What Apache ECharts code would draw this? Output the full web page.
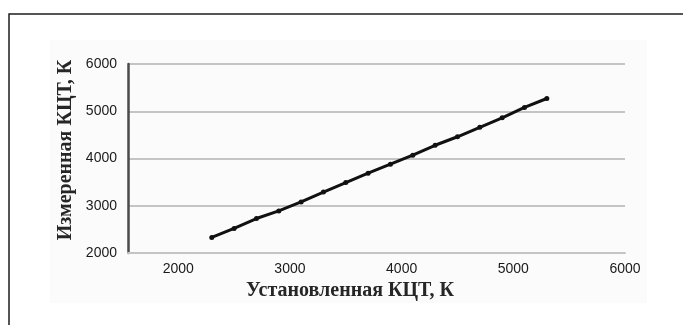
<!DOCTYPE html>
<html>
<head>
<meta charset="utf-8">
<script src="https://cdn.jsdelivr.net/npm/echarts@6/dist/echarts.min.js"></script>
<style>
  html, body { margin: 0; padding: 0; background: #fff; }
  #chart { width: 683px; height: 325px; }
</style>
</head>
<body>
<div id="chart"></div>
<script>
// Set colour temperature (K) against measured colour temperature (K)
const setCct = [2300, 2500, 2700, 2900, 3100, 3300, 3500, 3700, 3900, 4100, 4300, 4500, 4700, 4900, 5100, 5300];
const measuredCct = [2330, 2520, 2730, 2890, 3080, 3290, 3490, 3690, 3880, 4070, 4280, 4460, 4660, 4860, 5080, 5270];
const xTickLabels = [2000, 3000, 4000, 5000, 6000];
const yTickLabels = [2000, 3000, 4000, 5000, 6000];
const xTitle = 'Установленная КЦТ, К';
const yTitle = 'Измеренная КЦТ, К';

const points = setCct.map((x, i) => [x, measuredCct[i]]);

const chart = echarts.init(document.getElementById('chart'), null, { renderer: 'canvas' });

const tickFont = { fontFamily: 'Liberation Sans', fontSize: 14, color: '#1a1a1a' };
const titleFont = { fontFamily: 'Liberation Serif', fontSize: 20, fontWeight: 'bold', fill: '#262626' };
const plainNumber = v => String(v);

chart.setOption({
  backgroundColor: '#ffffff',
  animation: false,
  grid: { left: 128, right: 58, top: 64, bottom: 72, containLabel: false },
  xAxis: {
    type: 'value',
    min: 1550,
    max: 6000,
    axisLine: { show: true, lineStyle: { color: '#c4c4c4', width: 2 } },
    axisTick: { show: false },
    splitLine: { show: false },
    axisLabel: { ...tickFont, margin: 9, customValues: xTickLabels, formatter: plainNumber }
  },
  yAxis: {
    type: 'value',
    min: 2000,
    max: 6000,
    interval: 1000,
    axisLine: { show: true, lineStyle: { color: '#4a4a4a', width: 2.5 } },
    axisTick: { show: false },
    splitLine: { show: true, lineStyle: { color: '#c4c4c4', width: 2 } },
    axisLabel: { ...tickFont, margin: 11, customValues: yTickLabels, formatter: plainNumber }
  },
  graphic: [
    // faint chart-area panel
    { type: 'rect', z: -10, silent: true,
      shape: { x: 50, y: 40, width: 597, height: 263 },
      style: { fill: '#fbfbfb' } },
    // outer frame (left and top edges)
    { type: 'polyline', z: 10, silent: true,
      shape: { points: [[9, 325], [9, 14], [683, 14]] },
      style: { stroke: '#1e1e1e', lineWidth: 1.5, fill: null } },
    { type: 'text', silent: true, x: 350, y: 301,
      style: { ...titleFont, text: xTitle, textAlign: 'center', textVerticalAlign: 'bottom' } },
    { type: 'text', silent: true, x: 66, y: 150, rotation: Math.PI / 2,
      style: { ...titleFont, text: yTitle, textAlign: 'center', textVerticalAlign: 'middle' } }
  ],
  series: [{
    type: 'line',
    data: points,
    smooth: false,
    symbol: 'circle',
    symbolSize: 5,
    lineStyle: { color: '#111', width: 3 },
    itemStyle: { color: '#111' }
  }]
});
</script>
</body>
</html>
